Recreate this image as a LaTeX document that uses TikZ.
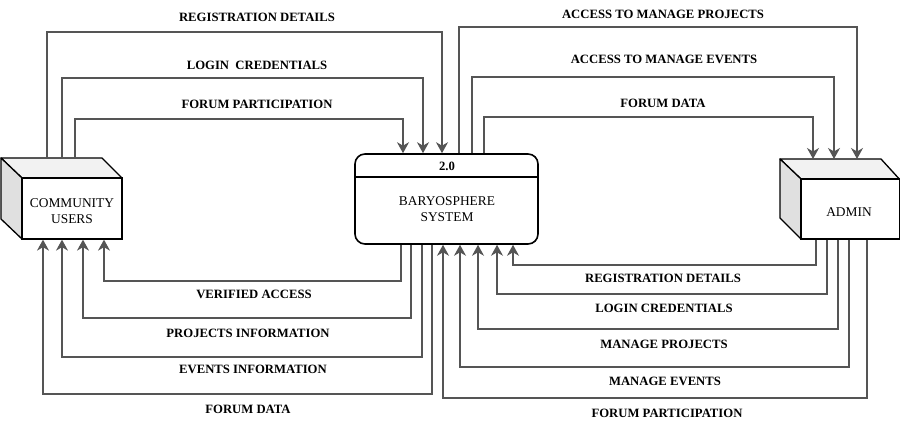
\documentclass[tikz,border=0pt]{standalone}
\usepackage{fontspec}
\setmainfont{Liberation Serif}
\usetikzlibrary{arrows.meta}
\definecolor{linegray}{HTML}{555555}
\definecolor{topface}{HTML}{F2F2F2}
\definecolor{sideface}{HTML}{E0E0E0}
\tikzset{
  flow/.style={draw=linegray, line width=1.3pt, -{Stealth[length=11pt,width=12pt,inset=3.5pt]}, fill=none},
  lbl/.style={font=\fontsize{12.7}{15}\selectfont\bfseries, inner sep=0pt, anchor=center},
  boxtext/.style={font=\fontsize{13.4}{16}\selectfont, align=center, inner sep=0pt},
  frontface/.style={draw=black, line width=1.3pt, fill=white, inner sep=0pt, align=center, font=\fontsize{13.4}{16}\selectfont},
  cubeface/.style={draw=black, line width=1.3pt, line join=round},
}
\begin{document}
\begin{tikzpicture}[x=1pt,y=-1pt]
\useasboundingbox (0,0) rectangle (901,427);

% ---- Community users cube
\filldraw[cubeface, fill=topface] (1,158) -- (102,158) -- (122,178) -- (22,178) -- cycle;
\filldraw[cubeface, fill=sideface] (1,158) -- (22,178) -- (22,239) -- (1,219) -- cycle;
\node[frontface, minimum width=100pt, minimum height=61pt] (cu) at (72,208.5) {};
\node[boxtext] (cutext) at (72,211.5) {COMMUNITY\\USERS};
\coordinate (cuback) at (1,158);

% ---- Admin cube
\filldraw[cubeface, fill=topface] (780,159) -- (881,159) -- (899.3,179) -- (801,179) -- cycle;
\filldraw[cubeface, fill=sideface] (780,159) -- (801,179) -- (801,239) -- (780,218) -- cycle;
\node[frontface, minimum width=98.3pt, minimum height=60pt] (admin) at (850.15,209) {};
\node[boxtext] (admintext) at (849,212) {ADMIN};
\coordinate (adback) at (780,159);

% ---- System process
\node[draw=black, line width=1.6pt, rounded corners=10pt, minimum width=183pt, minimum height=90pt, fill=white] (sys) at (446.5,199) {};
\draw[line width=1.3pt] (sys.west |- 0,177) -- (sys.east |- 0,177);
\node[boxtext, font=\fontsize{12.7}{15}\selectfont\bfseries] (sysid) at (447,166.5) {2.0};
\node[boxtext] (sysname) at (447,209.5) {BARYOSPHERE\\SYSTEM};

% ---- Community -> System (top)
\draw[flow] (47,0 |- cuback) |- (442,32) -- (442,0 |- sys.north);
\draw[flow] (62,0 |- cuback) |- (423,78) -- (423,0 |- sys.north);
\draw[flow] (75,0 |- cuback) |- (403,119) -- (403,0 |- sys.north);
\node[lbl] (l1) at (257,17) {REGISTRATION DETAILS};
\node[lbl] (l2) at (257,65) {LOGIN\ \ CREDENTIALS};
\node[lbl] (l3) at (257,104) {FORUM PARTICIPATION};

% ---- System -> Admin (top)
\draw[flow] (459,0 |- sys.north) |- (857,27) -- (857,0 |- adback);
\draw[flow] (472,0 |- sys.north) |- (834,77) -- (834,0 |- adback);
\draw[flow] (484,0 |- sys.north) |- (813,117) -- (813,0 |- adback);
\node[lbl] (l4) at (663,14) {ACCESS TO MANAGE PROJECTS};
\node[lbl] (l5) at (664,59) {ACCESS TO MANAGE EVENTS};
\node[lbl] (l6) at (663,103) {FORUM DATA};

% ---- System -> Community (bottom)
\draw[flow] (401,0 |- sys.south) |- (104,281) -- (104,0 |- cu.south);
\draw[flow] (411,0 |- sys.south) |- (83,318) -- (83,0 |- cu.south);
\draw[flow] (422,0 |- sys.south) |- (62,357) -- (62,0 |- cu.south);
\draw[flow] (432,0 |- sys.south) |- (43,394) -- (43,0 |- cu.south);
\node[lbl] (l7) at (254,294) {VERIFIED ACCESS};
\node[lbl] (l8) at (248,333) {PROJECTS INFORMATION};
\node[lbl] (l9) at (253,369) {EVENTS INFORMATION};
\node[lbl] (l10) at (248,409) {FORUM DATA};

% ---- Admin -> System (bottom)
\draw[flow] (816,0 |- admin.south) |- (513,265) -- (513,0 |- sys.south);
\draw[flow] (827,0 |- admin.south) |- (497,294) -- (497,0 |- sys.south);
\draw[flow] (838,0 |- admin.south) |- (478,329) -- (478,0 |- sys.south);
\draw[flow] (849,0 |- admin.south) |- (460,367) -- (460,0 |- sys.south);
\draw[flow] (867,0 |- admin.south) |- (443,398) -- (443,0 |- sys.south);
\node[lbl] (l11) at (663,278) {REGISTRATION DETAILS};
\node[lbl] (l12) at (664,308) {LOGIN CREDENTIALS};
\node[lbl] (l13) at (664,344) {MANAGE PROJECTS};
\node[lbl] (l14) at (665,381) {MANAGE EVENTS};
\node[lbl] (l15) at (667,413) {FORUM PARTICIPATION};
\end{tikzpicture}
\end{document}
